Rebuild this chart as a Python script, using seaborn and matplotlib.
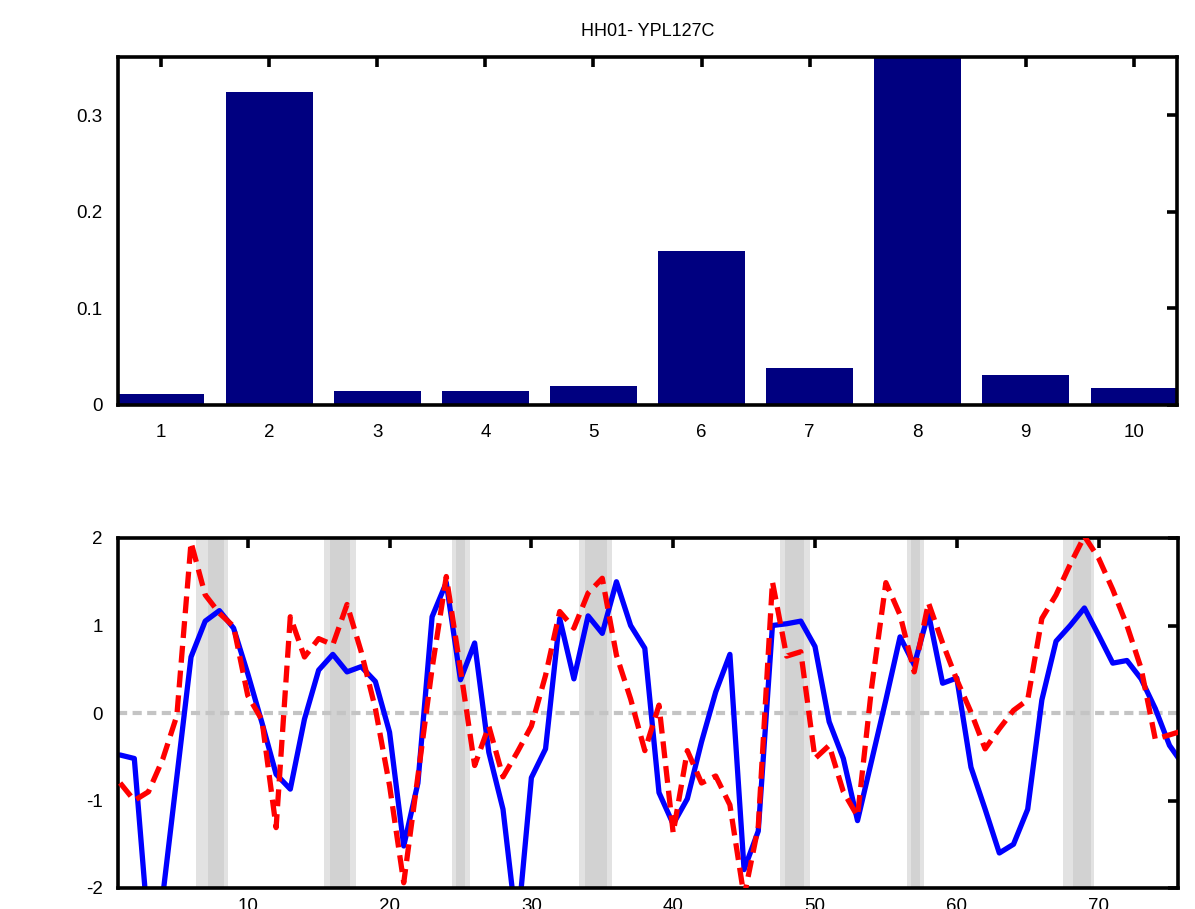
import numpy as np
import pandas as pd
import matplotlib
matplotlib.use("Agg")
import matplotlib.pyplot as plt
import seaborn as sns

# --- data ---
title = "HH01- YPL127C"

bar_labels = ["1", "2", "3", "4", "5", "6", "7", "8", "9", "10"]
bar_values = [0.011, 0.324, 0.0145, 0.0145, 0.020, 0.159, 0.038, 0.37, 0.031, 0.018]

time_points = list(range(1, 77))
blue_series = [
    -0.48, -0.52, -2.50, -2.10, -0.73, 0.64, 1.05, 1.17, 0.97, 0.45,
    -0.11, -0.70, -0.87, -0.07, 0.49, 0.67, 0.47, 0.53, 0.36, -0.22,
    -1.52, -0.80, 1.10, 1.49, 0.38, 0.80, -0.45, -1.10, -2.50, -0.74,
    -0.41, 1.08, 0.39, 1.11, 0.91, 1.50, 1.00, 0.74, -0.91, -1.27,
    -0.98, -0.33, 0.24, 0.67, -1.79, -1.35, 1.00, 1.02, 1.05, 0.76,
    -0.10, -0.52, -1.23, -0.54, 0.15, 0.87, 0.55, 1.14, 0.34, 0.40,
    -0.62, -1.10, -1.60, -1.50, -1.10, 0.15, 0.82, 1.00, 1.20, 0.89,
    0.57, 0.60, 0.39, 0.05, -0.37, -0.60,
]
red_series = [
    -0.80, -1.00, -0.90, -0.53, -0.03, 1.95, 1.35, 1.14, 0.99, 0.20,
    -0.08, -1.31, 1.10, 0.64, 0.85, 0.78, 1.24, 0.70, 0.05, -0.83,
    -1.94, -0.72, 0.51, 1.56, 0.50, -0.60, -0.15, -0.73, -0.45, -0.15,
    0.43, 1.16, 0.97, 1.37, 1.54, 0.66, 0.16, -0.43, 0.09, -1.37,
    -0.43, -0.80, -0.72, -1.05, -2.10, -1.30, 1.50, 0.65, 0.70, -0.52,
    -0.37, -0.90, -1.18, 0.30, 1.49, 1.12, 0.47, 1.26, 0.80, 0.38,
    0.01, -0.41, -0.18, 0.03, 0.15, 1.08, 1.35, 1.70, 2.02, 1.77,
    1.41, 1.00, 0.51, -0.30, -0.25, -0.20,
]

# shaded periods (outer light band, inner darker band)
band_outer_start = [6.38, 15.40, 24.39, 33.38, 47.50, 56.47, 67.47]
band_outer_end = [8.62, 17.63, 25.64, 35.69, 49.65, 57.70, 69.70]
band_inner_start = [7.20, 15.80, 24.70, 33.80, 47.90, 56.80, 68.20]
band_inner_end = [8.36, 17.20, 25.30, 35.30, 49.20, 57.40, 69.50]

sns.set_style("white")
plt.rcParams["font.family"] = ["Liberation Sans", "DejaVu Sans"]
plt.rcParams["axes.unicode_minus"] = False

fig = plt.figure(figsize=(11.95, 9.09), dpi=100)
ax_top = fig.add_axes([118 / 1195, 1 - 405 / 909, 1059 / 1195, 348 / 909])
ax_bot = fig.add_axes([118 / 1195, 1 - 888 / 909, 1060 / 1195, 350 / 909])

# --- top: bar chart ---
bars = pd.DataFrame({"component": bar_labels, "weight": bar_values})
sns.barplot(data=bars, x="component", y="weight", color="#000080",
            saturation=1, width=0.8, ax=ax_top, edgecolor="none")
ax_top.set_xlim(-0.4, 9.4)
ax_top.set_ylim(0, 0.36)
ax_top.set_yticks([0, 0.1, 0.2, 0.3])
ax_top.set_yticklabels(["0", "0.1", "0.2", "0.3"])
ax_top.set_xlabel("")
ax_top.set_ylabel("")

fig.text((118 + 1177) / 2 / 1195, 1 - 32 / 909, title, ha="center", va="center",
         fontsize=13, color="black")

# --- bottom: profiles ---
for s, e in zip(band_outer_start, band_outer_end):
    ax_bot.axvspan(s, e, color="#e2e2e2", lw=0, zorder=0)
for s, e in zip(band_inner_start, band_inner_end):
    ax_bot.axvspan(s, e, color="#d2d2d2", lw=0, zorder=0.5)

ax_bot.axhline(0, color="#c4c4c4", lw=3, linestyle=(0, (2.2, 1.3)), zorder=1)

prof = pd.DataFrame({"t": time_points, "blue": blue_series, "red": red_series})
sns.lineplot(data=prof, x="t", y="blue", color="#0000ff", lw=3.8, ax=ax_bot,
             zorder=2)
sns.lineplot(data=prof, x="t", y="red", color="#ff0000", lw=3.8, ax=ax_bot,
             linestyle=(0, (3.2, 1.5)), zorder=3)
ax_bot.set_xlim(0.85, 75.6)
ax_bot.set_ylim(-2, 2)
ax_bot.set_xticks(range(10, 71, 10))
ax_bot.set_yticks([-2, -1, 0, 1, 2])
ax_bot.set_xlabel("")
ax_bot.set_ylabel("")

for ax in (ax_top, ax_bot):
    for sp in ax.spines.values():
        sp.set_visible(True)
        sp.set_color("black")
        sp.set_linewidth(2.6)
    ax.tick_params(direction="in", length=7, width=2.6, labelsize=13.5,
                   top=True, right=True, colors="black")
    ax.tick_params(axis="y", pad=11)
    ax.set_facecolor("white")

ax_top.tick_params(axis="x", pad=14)
ax_bot.tick_params(axis="x", pad=7)

fig.savefig("out.png", dpi=100, facecolor="white")
